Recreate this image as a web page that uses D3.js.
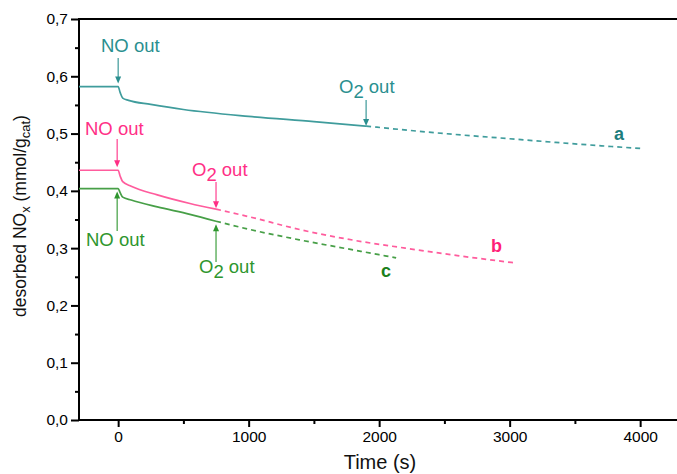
<!DOCTYPE html>
<html>
<head>
<meta charset="utf-8">
<script src="https://cdn.jsdelivr.net/npm/d3@7"></script>
<style>
  html, body { margin: 0; padding: 0; background: #fff; }
  svg { display: block; }
  text { font-family: "Liberation Sans", Arial, Helvetica, sans-serif; }
</style>
</head>
<body>
<svg id="chart" width="677" height="474"></svg>
<script>
// ---- data ----
const seriesNames = ["a", "b", "c"];
const timeA = [-300, 0, 15, 35, 80, 250, 500, 1000, 1500, 1900, 2500, 3000, 3500, 4000];
const valA  = [0.582, 0.582, 0.572, 0.562, 0.558, 0.551, 0.542, 0.530, 0.521, 0.513, 0.500, 0.491, 0.482, 0.474];
const timeB = [-300, 0, 15, 35, 100, 300, 550, 750, 1000, 1400, 1800, 2200, 2600, 3050];
const valB  = [0.436, 0.436, 0.426, 0.416, 0.408, 0.393, 0.378, 0.368, 0.355, 0.332, 0.314, 0.300, 0.287, 0.274];
const timeC = [-300, 0, 15, 35, 100, 300, 550, 750, 1000, 1400, 1800, 2130];
const valC  = [0.404, 0.404, 0.397, 0.389, 0.384, 0.372, 0.359, 0.347, 0.333, 0.314, 0.297, 0.283];
const o2OutTime = [1900, 750, 750];
const noOutTime = [0, 0, 0];
const xTickValues = [0, 1000, 2000, 3000, 4000];
const yTickValues = [0, 0.1, 0.2, 0.3, 0.4, 0.5, 0.6, 0.7];

const lineColors = ["#3f9c9c", "#ff5c9d", "#479f47"];
const textColors = ["#2a8f8f", "#ff2f86", "#2e962e"];
const labelColors = ["#1d7d7d", "#ff1f78", "#1b801b"];

// ---- layout ----
const svg = d3.select("#chart");
const pLeft = 79, pRight = 679.3, pTop = 19, pBottom = 420;
const x = d3.scaleLinear().domain([-300, 4300]).range([pLeft, pRight]);
const y = d3.scaleLinear().domain([0, 0.7]).range([pBottom, pTop]);

// frame: top border
svg.append("line").attr("x1", pLeft).attr("x2", 677).attr("y1", pTop).attr("y2", pTop)
  .attr("stroke", "#000").attr("stroke-width", 2);

// axes
const fmt = d => d3.format(".1f")(d).replace(".", ",");
const yAxis = d3.axisLeft(y).tickValues(yTickValues).tickFormat(fmt).tickSize(8).tickPadding(3);
const yMinor = d3.axisLeft(y).tickValues(d3.range(0.05, 0.7, 0.1)).tickFormat("").tickSize(4);
const xAxis = d3.axisBottom(x).tickValues(xTickValues).tickFormat(d3.format("d")).tickSize(7).tickPadding(4);
const xMinor = d3.axisBottom(x).tickValues([500, 1500, 2500, 3500]).tickFormat("").tickSize(4);

function styleAxis(g) {
  g.select(".domain").remove();
  g.selectAll(".tick line").attr("stroke", "#000").attr("stroke-width", 2);
  g.selectAll(".tick text").attr("fill", "#000").style("font-size", "15.5px")
    .style("font-family", "'Liberation Sans', Arial, sans-serif");
}
svg.append("g").attr("transform", `translate(${pLeft},0)`).call(yAxis).call(styleAxis);
svg.append("g").attr("transform", `translate(${pLeft},0)`).call(yMinor).call(styleAxis);
svg.append("g").attr("transform", `translate(0,${pBottom})`).call(xAxis).call(styleAxis);
svg.append("g").attr("transform", `translate(0,${pBottom})`).call(xMinor).call(styleAxis);

svg.append("line").attr("x1", pLeft).attr("x2", pLeft).attr("y1", pTop - 1).attr("y2", pBottom + 1)
  .attr("stroke", "#000").attr("stroke-width", 2);
svg.append("line").attr("x1", pLeft - 1).attr("x2", 677).attr("y1", pBottom).attr("y2", pBottom)
  .attr("stroke", "#000").attr("stroke-width", 2);

// axis titles
svg.append("text").attr("x", 380).attr("y", 469).attr("text-anchor", "middle")
  .style("font-size", "20px").attr("fill", "#111").text("Time (s)");

const yl = svg.append("text").attr("transform", "translate(26,216) rotate(-90)")
  .attr("text-anchor", "middle").style("font-size", "17.5px").attr("fill", "#111");
yl.append("tspan").text("desorbed NO");
yl.append("tspan").attr("dy", 4).style("font-size", "13px").text("x");
yl.append("tspan").attr("dy", -4).text(" (mmol/g");
yl.append("tspan").attr("dy", 4).style("font-size", "13px").text("cat");
yl.append("tspan").attr("dy", -4).text(")");

// ---- curves ----
const times = [timeA, timeB, timeC];
const vals = [valA, valB, valC];
const line = d3.line().x(d => x(d[0])).y(d => y(d[1])).curve(d3.curveMonotoneX);

seriesNames.forEach((name, i) => {
  const pts = times[i].map((t, j) => [t, vals[i][j]]);
  const solid = pts.filter(p => p[0] <= o2OutTime[i]);
  const dashed = pts.filter(p => p[0] >= o2OutTime[i]);
  svg.append("path").attr("d", line(solid)).attr("fill", "none")
    .attr("stroke", lineColors[i]).attr("stroke-width", 1.7);
  svg.append("path").attr("d", line(dashed)).attr("fill", "none")
    .attr("stroke", lineColors[i]).attr("stroke-width", 1.7).attr("stroke-dasharray", "5,4");
});

// ---- annotations ----
function valueAt(i, t) {
  const k = times[i].indexOf(t);
  return vals[i][k];
}
function arrow(xp, yFrom, yTo, color) {
  const dir = yTo > yFrom ? 1 : -1;
  svg.append("line").attr("x1", xp).attr("x2", xp).attr("y1", yFrom).attr("y2", yTo - dir * 6)
    .attr("stroke", color).attr("stroke-width", 1.1);
  svg.append("path")
    .attr("d", `M${xp - 3},${yTo - dir * 7} L${xp + 3},${yTo - dir * 7} L${xp},${yTo} Z`)
    .attr("fill", color);
}
function label(xp, yp, txt, color, sub) {
  const t = svg.append("text").attr("x", xp).attr("y", yp).style("font-size", "18.5px").attr("fill", color);
  if (sub) {
    t.append("tspan").text("O");
    t.append("tspan").attr("dy", 5).text("2");
    t.append("tspan").attr("dy", -5).text(" out");
  } else {
    t.text(txt);
  }
}

// a
arrow(x(noOutTime[0]), 58, y(valueAt(0, 0)) - 3, textColors[0]);
label(101, 52, "NO out", textColors[0]);
arrow(x(o2OutTime[0]), 100, y(valueAt(0, 1900)), textColors[0]);
label(339, 93, "O2 out", textColors[0], true);
// b
arrow(x(noOutTime[1]) - 1, 139, y(valueAt(1, 0)) - 3, textColors[1]);
label(85, 135, "NO out", textColors[1]);
arrow(x(o2OutTime[1]), 182, y(valueAt(1, 750)) - 1, textColors[1]);
label(192, 176, "O2 out", textColors[1], true);
// c
arrow(x(noOutTime[2]) - 1, 231, y(valueAt(2, 0)) + 3, textColors[2]);
label(86, 246, "NO out", textColors[2]);
arrow(x(o2OutTime[2]), 262, y(valueAt(2, 750)) + 3, textColors[2]);
label(199, 273, "O2 out", textColors[2], true);

// series letters
const letterPos = [[614, 140], [491, 252], [381, 277]];
seriesNames.forEach((name, i) => {
  svg.append("text").attr("x", letterPos[i][0]).attr("y", letterPos[i][1])
    .style("font-size", "18px").style("font-weight", "bold").attr("fill", labelColors[i]).text(name);
});
</script>
</body>
</html>
